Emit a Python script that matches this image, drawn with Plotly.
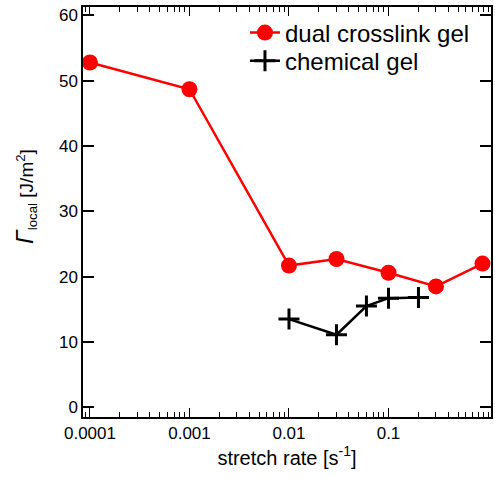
import plotly.graph_objects as go

# Data
dual_x = [0.0001, 0.001, 0.01, 0.03, 0.1, 0.3, 0.88]
dual_y = [52.8, 48.7, 21.7, 22.7, 20.6, 18.5, 22.0]
chem_x = [0.01, 0.03, 0.06, 0.1, 0.2]
chem_y = [13.5, 11.1, 15.5, 16.7, 16.8]
x_tickvals = [0.0001, 0.001, 0.01, 0.1]
x_ticktext = ["0.0001", "0.001", "0.01", "0.1"]
y_tickvals = [0, 10, 20, 30, 40, 50, 60]

FONT = "Liberation Sans, Arial, Helvetica, sans-serif"

fig = go.Figure()
fig.add_trace(go.Scatter(
    x=dual_x, y=dual_y, mode="lines+markers", name="dual crosslink gel",
    line=dict(color="#ff0000", width=2.5),
    marker=dict(symbol="circle", size=16, color="#ff0000"),
    legend="legend",
))
fig.add_trace(go.Scatter(
    x=chem_x, y=chem_y, mode="lines+markers", name="chemical gel",
    line=dict(color="black", width=2.5),
    marker=dict(symbol="cross-thin", size=15, line=dict(color="black", width=3)),
    legend="legend2",
))

leg_common = dict(xanchor="left", yanchor="middle", bgcolor="rgba(0,0,0,0)",
                  font=dict(size=24), borderwidth=0)

fig.update_layout(
    width=495, height=478,
    margin=dict(l=83, r=4, t=7, b=61),
    plot_bgcolor="white", paper_bgcolor="white",
    font=dict(family=FONT, color="black", size=17),
    showlegend=True,
    legend=dict(x=0.397, y=0.9366, **leg_common),
    legend2=dict(x=0.397, y=0.868, **leg_common),
    xaxis=dict(
        type="log", range=[-4.07, 0.03], automargin=False,
        tickvals=x_tickvals, ticktext=x_ticktext,
        ticks="inside", ticklen=9, tickwidth=1, tickcolor="black",
        minor=dict(ticks="inside", ticklen=5, dtick="D1", tickcolor="black", tickwidth=1),
        showline=True, linecolor="black", linewidth=1.5, mirror="ticks",
        showgrid=False, zeroline=False,
        title=dict(text="stretch rate [s<sup>-1</sup>]", font=dict(size=20), standoff=8),
        tickfont=dict(size=17),
    ),
    yaxis=dict(
        range=[-1.5, 61.3], automargin=False,
        tickvals=y_tickvals,
        ticks="inside", ticklen=11, tickwidth=1.5, tickcolor="black",
        showline=True, linecolor="black", linewidth=1.5, mirror="ticks",
        showgrid=False, zeroline=False,
        tickfont=dict(size=17),
    ),
    annotations=[dict(
        text="<span style='font-size:24px'><i>Γ</i></span><sub>local</sub> [J/m<sup>2</sup>]",
        xref="paper", yref="paper", x=-(83 - 25) / 408, y=(417 - 197) / 410,
        xanchor="center", yanchor="middle", textangle=-90, showarrow=False,
        font=dict(size=19, family=FONT, color="black"),
    )],
)

fig.write_html("out.html", config={"displayModeBar": False},
               post_script="document.body.style.margin='0';")
